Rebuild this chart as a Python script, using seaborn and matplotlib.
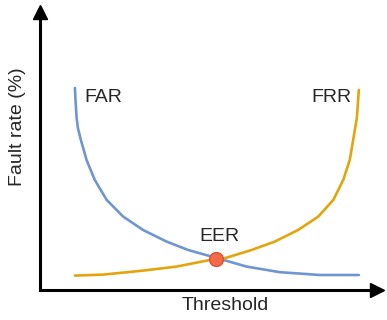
import seaborn as sns
import matplotlib.pyplot as plt
import pandas as pd

# threshold (0-100) vs fault rate
far_threshold = [0, 0.2, 0.6, 1.05, 2.1, 4.1, 7.0, 11.2, 17.0, 24.0, 32.3, 39.9, 49.9, 60.5, 72.2, 86.3, 100]
far_rate = [101, 95, 86, 81, 75, 65, 55, 45, 36.7, 30, 24.2, 20, 16, 11.7, 8.9, 7.5, 7.5]

frr_threshold = [0, 10, 24, 35.8, 47.5, 52.8, 62.2, 70.4, 78.6, 85.7, 91.0, 94.5, 96.8, 98.0, 99.3, 100]
frr_rate = [7.2, 7.7, 9.7, 11.7, 15, 15.9, 20, 24.2, 30, 36.7, 45, 55, 65, 75, 86, 100]

eer_threshold = [49.6]
eer_rate = [15.4]

far = pd.DataFrame({"threshold": far_threshold, "rate": far_rate})
frr = pd.DataFrame({"threshold": frr_threshold, "rate": frr_rate})

sns.set_style("white")
plt.rcParams["font.family"] = ["Liberation Sans", "DejaVu Sans"]

fig = plt.figure(figsize=(3.87, 3.2), dpi=100)
ax = fig.add_axes([40 / 387, 30 / 320, 337 / 387, 278 / 320])

sns.lineplot(data=far, x="threshold", y="rate", color="#6f96d1", linewidth=1.9, ax=ax)
sns.lineplot(data=frr, x="threshold", y="rate", color="#e3a50c", linewidth=1.9, ax=ax)
ax.plot(eer_threshold, eer_rate, "o", color="#f26a48", markeredgecolor="#dc5234",
        markersize=10, zorder=5)

ax.set_xlim(-12.3, 106.4)
ax.set_ylim(0, 139)

ax.text(3.2, 96, "FAR", fontsize=14, va="center", ha="left")
ax.text(97.5, 96.5, "FRR", fontsize=14, va="center", ha="right")
ax.text(51, 26.8, "EER", fontsize=14, va="center", ha="center")

ax.set_xticks([])
ax.set_yticks([])
ax.set_xlabel("")
ax.set_ylabel("")
sns.despine(ax=ax)
for side in ["left", "bottom"]:
    ax.spines[side].set_linewidth(2.2)
    ax.spines[side].set_color("black")

# arrow heads
ax.plot(1, 0, ">k", markersize=10, transform=ax.transAxes, clip_on=False)
ax.plot(0, 1, "^k", markersize=10, transform=ax.transAxes, clip_on=False)

fig.text(225 / 387, 1 - 306 / 320, "Threshold", fontsize=14, ha="center", va="center")
fig.text(18 / 387, 1 - 127 / 320, "Fault rate (%)", fontsize=14, ha="center",
         va="center", rotation=90)

fig.savefig("out.png", dpi=100)
plt.close()
